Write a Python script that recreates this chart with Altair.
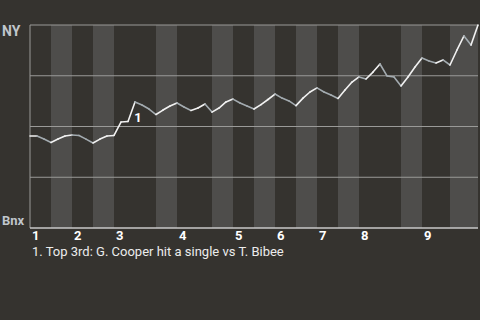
import altair as alt
import pandas as pd

# Win probability after each plate appearance (0 = Bnx, 1 = NY)
win_prob = [
    0.453, 0.453, 0.438, 0.421, 0.438, 0.453, 0.458, 0.456, 0.438, 0.419,
    0.438, 0.453, 0.456, 0.522, 0.525, 0.621, 0.606, 0.586, 0.559, 0.581,
    0.601, 0.616, 0.596, 0.579, 0.591, 0.611, 0.571, 0.591, 0.621, 0.635,
    0.616, 0.601, 0.586, 0.608, 0.633, 0.660, 0.640, 0.626, 0.603, 0.640,
    0.670, 0.690, 0.670, 0.655, 0.638, 0.680, 0.719, 0.744, 0.734, 0.768,
    0.808, 0.749, 0.744, 0.700, 0.744, 0.793, 0.837, 0.823, 0.813, 0.828,
    0.803, 0.877, 0.946, 0.901, 1.000,
]

# Plate appearances in each half inning (top, bottom, top, bottom, ...)
half_inning_pa = [3, 3, 3, 3, 6, 3, 5, 3, 3, 3, 3, 3, 3, 3, 6, 3, 4, 4]
innings = ["1", "2", "3", "4", "5", "6", "7", "8", "9"]

team_top = "NY"
team_bottom = "Bnx"
grid_levels = [0.25, 0.5, 0.75, 1.0]

note_index = 15
note_label = "1"
footnote = "1. Top 3rd: G. Cooper hit a single vs T. Bibee"

W, H = 448, 203
BG = "#35332f"
BAND = "#4e4d4b"
GRID = "#9a9a98"
FONT = "Roboto"

n_pa = len(win_prob) - 1

# Half-inning bands
bands = []
pos = 0
for k, cnt in enumerate(half_inning_pa):
    bands.append({"x": pos, "x2": pos + cnt, "half": "top" if k % 2 == 0 else "bottom"})
    pos += cnt
bands_df = pd.DataFrame(bands)

inning_starts = pd.DataFrame({
    "x": [b["x"] for b in bands if b["half"] == "top"],
    "label": innings,
})

# Line segments between consecutive plate appearances
segs = pd.DataFrame({
    "x": list(range(n_pa)),
    "x2": list(range(1, n_pa + 1)),
    "y": win_prob[:-1],
    "y2": win_prob[1:],
})
segs["dir"] = ["up" if b >= a else "down" for a, b in zip(segs["y"], segs["y2"])]

xs = alt.Scale(domain=[0, n_pa], nice=False, zero=False)
ys = alt.Scale(domain=[0, 1], nice=False)

band_layer = alt.Chart(bands_df).mark_rect().encode(
    x=alt.X("x:Q", scale=xs, axis=None),
    x2="x2:Q",
    y=alt.value(0),
    y2=alt.value(H),
    color=alt.Color("half:N", scale=alt.Scale(domain=["top", "bottom"], range=[BG, BAND]), legend=None),
)

grid_layer = alt.Chart(pd.DataFrame({"y": grid_levels})).mark_rule(
    color=GRID, strokeWidth=1
).encode(
    y=alt.Y("y:Q", scale=ys, axis=None),
    x=alt.value(0),
    x2=alt.value(W),
)

left_axis = alt.Chart(pd.DataFrame({"x": [0]})).mark_rule(color=GRID, strokeWidth=1).encode(
    x=alt.X("x:Q", scale=xs, axis=None),
    y=alt.value(0),
    y2=alt.value(H),
)
bottom_axis = alt.Chart(pd.DataFrame({"y": [0]})).mark_rule(color="#c8c8c8", strokeWidth=1.5).encode(
    y=alt.Y("y:Q", scale=ys, axis=None),
    x=alt.value(0),
    x2=alt.value(W),
)

line_layer = alt.Chart(segs).mark_rule(strokeWidth=1.6, strokeCap="round").encode(
    x=alt.X("x:Q", scale=xs, axis=None),
    x2="x2:Q",
    y=alt.Y("y:Q", scale=ys, axis=None),
    y2="y2:Q",
    color=alt.Color("dir:N", scale=alt.Scale(domain=["up", "down"], range=["#f2f2f2", "#a3abb0"]), legend=None),
)

ny_label = alt.Chart(pd.DataFrame({"y": [1.0], "t": [team_top]})).mark_text(
    font=FONT, fontSize=14, fontWeight="bold", color="#c0c6cc", align="left", baseline="top"
).encode(x=alt.value(-28), y=alt.Y("y:Q", scale=ys, axis=None), text="t:N")

bnx_label = alt.Chart(pd.DataFrame({"y": [0.0], "t": [team_bottom]})).mark_text(
    font=FONT, fontSize=13, fontWeight="bold", color="#c0c6cc", align="left", baseline="alphabetic", dy=-3
).encode(x=alt.value(-28), y=alt.Y("y:Q", scale=ys, axis=None), text="t:N")

inning_labels = alt.Chart(inning_starts).mark_text(
    font=FONT, fontSize=13, fontWeight="bold", color="#ffffff", align="left", baseline="top", dx=2
).encode(
    x=alt.X("x:Q", scale=xs, axis=None),
    y=alt.value(H + 2),
    text="label:N",
)

note_layer = alt.Chart(pd.DataFrame({
    "x": [note_index], "y": [win_prob[note_index]], "t": [note_label],
})).mark_text(
    font=FONT, fontSize=13, fontWeight="bold", color="#ffffff", align="center", baseline="middle", dx=3, dy=16
).encode(x=alt.X("x:Q", scale=xs, axis=None), y=alt.Y("y:Q", scale=ys, axis=None), text="t:N")

foot_layer = alt.Chart(pd.DataFrame({"t": [footnote]})).mark_text(
    font=FONT, fontSize=13, color="#ececec", align="left", baseline="top"
).encode(x=alt.value(2), y=alt.value(H + 18), text="t:N")

chart = alt.layer(
    band_layer, grid_layer, left_axis, bottom_axis, line_layer,
    ny_label, bnx_label, inning_labels, note_layer, foot_layer,
).resolve_scale(
    color="independent"
).properties(
    width=W, height=H,
    background=BG,
    padding={"left": 30, "top": 25, "right": 2, "bottom": 92},
    autosize=alt.AutoSizeParams(type="none"),
).configure_view(stroke=None)

chart.save("out.html", embed_options={"renderer": "svg", "actions": False})
